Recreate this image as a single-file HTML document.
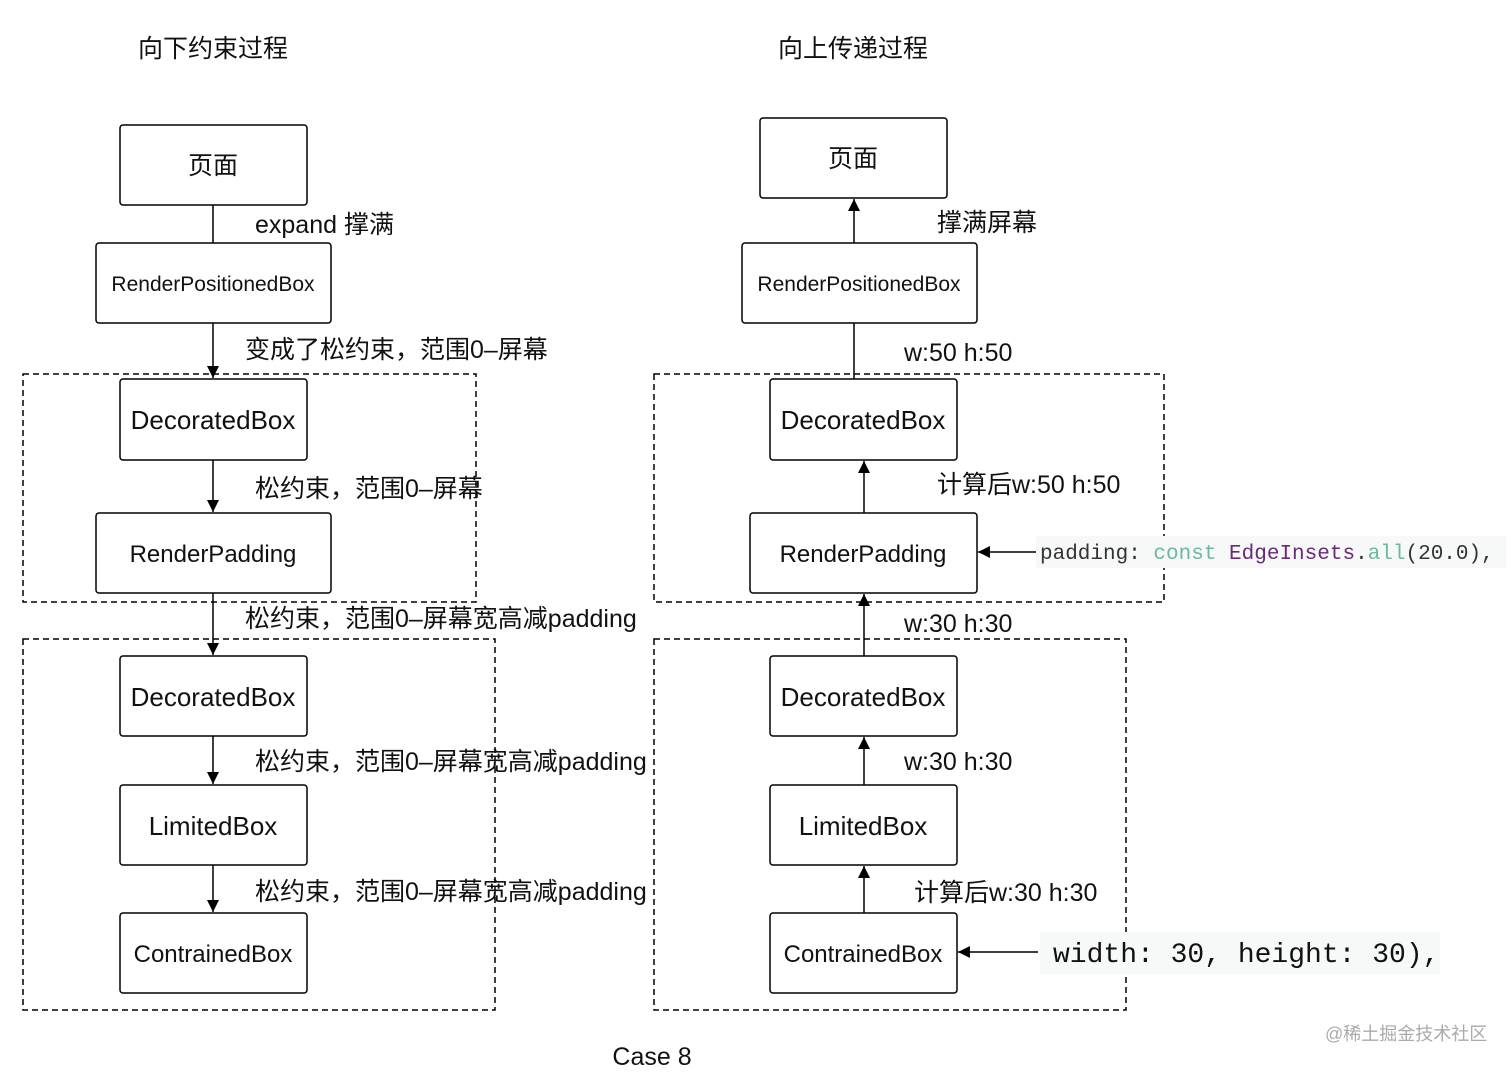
<!DOCTYPE html>
<html><head><meta charset="utf-8"><style>
body{margin:0;background:#fff;}
svg text{font-family:"Liberation Sans","Noto Sans CJK SC",sans-serif;fill:#111;}
.m{font-family:"Liberation Mono","DejaVu Sans Mono",monospace;}
</style></head><body>
<svg width="1512" height="1071" viewBox="0 0 1512 1071" xmlns="http://www.w3.org/2000/svg">
<defs><marker id="a" markerWidth="12" markerHeight="14" refX="12" refY="7" orient="auto" markerUnits="userSpaceOnUse"><path d="M0,1 L12,7 L0,13 Z" fill="#000"/></marker></defs>
<g fill="none" stroke="#000" stroke-width="1.5">
<rect x="23" y="374" width="453" height="228" stroke-dasharray="6,4"/>
<rect x="23" y="639" width="472" height="371" stroke-dasharray="6,4"/>
<rect x="654" y="374" width="510" height="228" stroke-dasharray="6,4"/>
<rect x="654" y="639" width="472" height="371" stroke-dasharray="6,4"/>
</g>
<g fill="#fff" stroke="#000" stroke-width="1.5">
<rect x="120" y="125" width="187" height="80" rx="3"/>
<rect x="96" y="243" width="235" height="80" rx="3"/>
<rect x="120" y="379" width="187" height="81" rx="3"/>
<rect x="96" y="513" width="235" height="80" rx="3"/>
<rect x="120" y="656" width="187" height="80" rx="3"/>
<rect x="120" y="785" width="187" height="80" rx="3"/>
<rect x="120" y="913" width="187" height="80" rx="3"/>
<rect x="760" y="118" width="187" height="80" rx="3"/>
<rect x="742" y="243" width="235" height="80" rx="3"/>
<rect x="770" y="379" width="187" height="81" rx="3"/>
<rect x="750" y="513" width="227" height="80" rx="3"/>
<rect x="770" y="656" width="187" height="80" rx="3"/>
<rect x="770" y="785" width="187" height="80" rx="3"/>
<rect x="770" y="913" width="187" height="80" rx="3"/>
</g>
<g stroke="#000" stroke-width="1.5">
<line x1="213" y1="205" x2="213" y2="243"/>
<line x1="213" y1="323" x2="213" y2="378" marker-end="url(#a)"/>
<line x1="213" y1="460" x2="213" y2="512" marker-end="url(#a)"/>
<line x1="213" y1="593" x2="213" y2="655" marker-end="url(#a)"/>
<line x1="213" y1="736" x2="213" y2="784" marker-end="url(#a)"/>
<line x1="213" y1="865" x2="213" y2="912" marker-end="url(#a)"/>
<line x1="854" y1="243" x2="854" y2="199" marker-end="url(#a)"/>
<line x1="854" y1="323" x2="854" y2="379"/>
<line x1="864" y1="513" x2="864" y2="461" marker-end="url(#a)"/>
<line x1="864" y1="656" x2="864" y2="594" marker-end="url(#a)"/>
<line x1="864" y1="785" x2="864" y2="737" marker-end="url(#a)"/>
<line x1="864" y1="913" x2="864" y2="866" marker-end="url(#a)"/>
<line x1="1038" y1="552" x2="978" y2="552" marker-end="url(#a)"/>
<line x1="1038" y1="952" x2="958" y2="952" marker-end="url(#a)"/>
</g>
<rect x="1036" y="536" width="470" height="32" fill="#f7f8f8"/>
<rect x="1040" y="932" width="400" height="42" fill="#f7f8f8"/>
<g font-size="26" text-anchor="middle">
<text x="213" y="57" font-size="25">向下约束过程</text>
<text x="853" y="57" font-size="25">向上传递过程</text>
<text x="213" y="174" font-size="25">页面</text>
<text x="213" y="291" font-size="21">RenderPositionedBox</text>
<text x="213" y="429">DecoratedBox</text>
<text x="213" y="562" font-size="24">RenderPadding</text>
<text x="213" y="706">DecoratedBox</text>
<text x="213" y="835">LimitedBox</text>
<text x="213" y="962" font-size="24">ContrainedBox</text>
<text x="853" y="167" font-size="25">页面</text>
<text x="859" y="291" font-size="21">RenderPositionedBox</text>
<text x="863" y="429">DecoratedBox</text>
<text x="863" y="562" font-size="24">RenderPadding</text>
<text x="863" y="706">DecoratedBox</text>
<text x="863" y="835">LimitedBox</text>
<text x="863" y="962" font-size="24">ContrainedBox</text>
<text x="652" y="1065" font-size="25">Case 8</text>
</g>
<g font-size="25">
<text x="255" y="233">expand 撑满</text>
<text x="245" y="358">变成了松约束，范围0–屏幕</text>
<text x="255" y="497">松约束，范围0–屏幕</text>
<text x="245" y="627">松约束，范围0–屏幕宽高减padding</text>
<text x="255" y="770">松约束，范围0–屏幕宽高减padding</text>
<text x="255" y="900">松约束，范围0–屏幕宽高减padding</text>
<text x="937" y="231">撑满屏幕</text>
<text x="904" y="361">w:50 h:50</text>
<text x="937" y="493">计算后w:50 h:50</text>
<text x="904" y="632">w:30 h:30</text>
<text x="904" y="770">w:30 h:30</text>
<text x="914" y="901">计算后w:30 h:30</text>
</g>
<text class="m" x="1040" y="559" font-size="21" fill="#333"><tspan fill="#333">padding: </tspan><tspan fill="#6cb8a0">const </tspan><tspan fill="#6a2a7a">EdgeInsets</tspan><tspan fill="#333">.</tspan><tspan fill="#6cb8a0">all</tspan><tspan fill="#333">(20.0),</tspan></text>
<text class="m" x="1053" y="962" font-size="28" fill="#333">width: 30, height: 30),</text>
<text x="1325" y="1040" font-size="18" style="fill:#aaa">@稀土掘金技术社区</text>
</svg>
</body></html>
